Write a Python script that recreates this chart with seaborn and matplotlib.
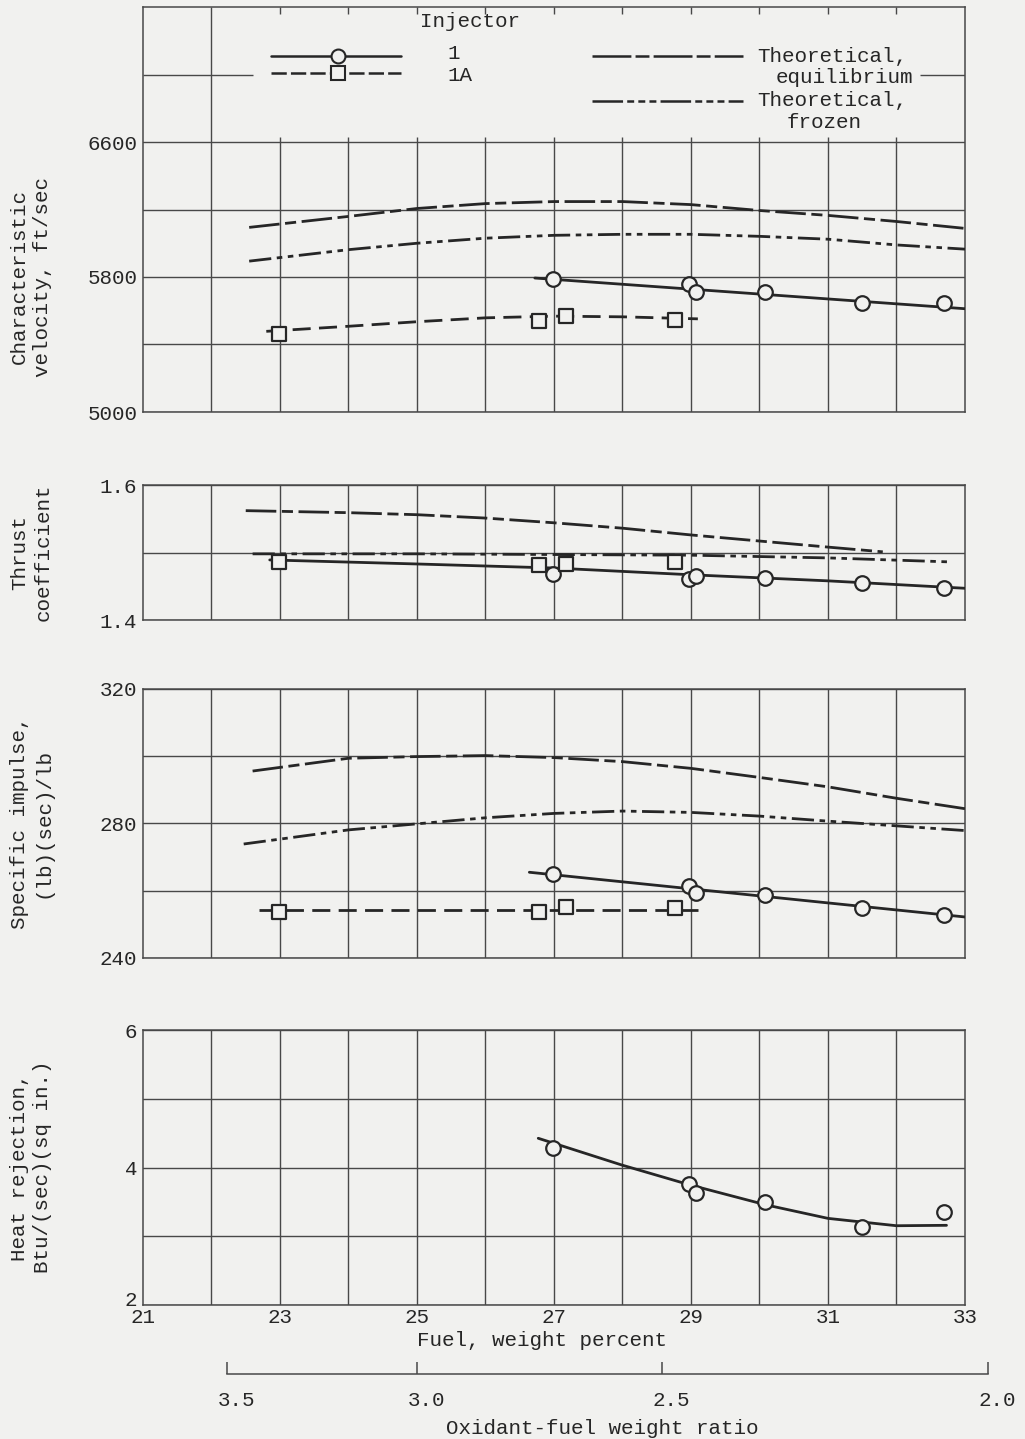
import matplotlib
matplotlib.use("Agg")
import matplotlib.pyplot as plt
import matplotlib.transforms as mtransforms
import numpy as np
import pandas as pd
import seaborn as sns

# ---------------------------------------------------------------- data
# Injector test points (fuel weight percent shared by all four panels)
fuel_inj1 = [26.99, 28.97, 29.08, 30.08, 31.49, 32.70]
fuel_inj1a = [22.98, 26.78, 27.18, 28.76]

# Characteristic velocity, ft/sec
cstar_inj1 = [5788, 5759, 5712, 5712, 5647, 5647]
cstar_inj1a = [5465, 5541, 5571, 5547]
fuel_cstar_fit1 = [26.72, 33.0]
cstar_fit1 = [5794, 5612]
fuel_cstar_fit1a = [22.8, 24, 25, 26, 27, 28, 29.1]
cstar_fit1a = [5478, 5508, 5535, 5558, 5568, 5564, 5552]
fuel_cstar_theo = [22.55, 24, 25, 26, 27, 28, 29, 30, 31, 32, 33]
cstar_equil = [6094, 6159, 6206, 6235, 6247, 6247, 6229, 6194, 6165, 6129, 6088]
cstar_frozen = [5894, 5962, 6000, 6030, 6047, 6053, 6053, 6041, 6024, 5990, 5965]

# Thrust coefficient
cf_inj1 = [1.468, 1.461, 1.465, 1.462, 1.455, 1.447]
cf_inj1a = [1.486, 1.482, 1.483, 1.486]
fuel_cf_fit = [22.85, 25, 27, 29, 31, 33]
cf_fit = [1.489, 1.483, 1.477, 1.467, 1.458, 1.447]
fuel_cf_equil = [22.5, 24, 25, 26, 27, 28, 29, 30, 31, 31.8]
cf_equil = [1.562, 1.559, 1.556, 1.551, 1.544, 1.536, 1.526, 1.517, 1.508, 1.501]
fuel_cf_frozen = [22.6, 25, 27, 29, 31, 32.8]
cf_frozen = [1.498, 1.498, 1.497, 1.496, 1.492, 1.486]

# Specific impulse, (lb)(sec)/lb
isp_inj1 = [265.0, 261.3, 259.2, 258.6, 255.0, 252.7]
isp_inj1a = [253.8, 253.8, 255.1, 254.8]
fuel_isp_fit1 = [26.64, 33.0]
isp_fit1 = [265.5, 252.2]
fuel_isp_fit1a = [22.7, 29.1]
isp_fit1a = [254.2, 254.2]
fuel_isp_equil = [22.6, 24, 25, 26, 27, 28, 29, 30, 31, 32, 33]
isp_equil = [295.6, 299.4, 299.9, 300.2, 299.6, 298.4, 296.4, 293.7, 290.9, 287.5, 284.4]
fuel_isp_frozen = [22.47, 24, 25, 26, 27, 28, 29, 30, 31, 32, 33]
isp_frozen = [273.9, 278.1, 279.9, 281.7, 283.0, 283.7, 283.3, 282.2, 280.7, 279.3, 277.9]

# Heat rejection, Btu/(sec)(sq in.)
heat_inj1 = [4.288, 3.760, 3.634, 3.494, 3.139, 3.348]
fuel_heat_fit = [26.77, 27.99, 28.99, 30.10, 31.0, 32.0, 32.73]
heat_fit = [4.425, 4.036, 3.745, 3.455, 3.26, 3.153, 3.159]

# Axis ticks
fuel_ticks = [21, 23, 25, 27, 29, 31, 33]
of_ticks = [3.5, 3.0, 2.5, 2.0]

# ---------------------------------------------------------------- style
PAPER = "#f1f1ef"
INK = "#262626"
GRID = "#484848"
FS = 15

sns.set_theme(style="white")
plt.rcParams["font.family"] = ["Liberation Mono", "DejaVu Sans Mono"]
plt.rcParams["lines.scale_dashes"] = False
plt.rcParams["text.color"] = INK
plt.rcParams["axes.labelcolor"] = INK
plt.rcParams["xtick.color"] = INK
plt.rcParams["ytick.color"] = INK

W, H = 1025, 1439
fig = plt.figure(figsize=(W / 100, H / 100), dpi=100, facecolor=PAPER)


def px_rect(x0, y0, x1, y1):
    return [x0 / W, 1 - y1 / H, (x1 - x0) / W, (y1 - y0) / H]


EQ_DASH = (22, 4, 8, 4)
FR_DASH = (16, 4, 4, 4, 4, 4)
INJ1A_DASH = (13, 6)


def curve(ax, x, y, dashes=None, lw=2.0):
    sns.lineplot(x=x, y=y, ax=ax, color=INK, linewidth=lw, sort=False,
                 estimator=None, zorder=3)
    ln = ax.lines[-1]
    if dashes is not None:
        ln.set_dashes(dashes)
    ln.set_dash_capstyle("butt")


def points(ax, x, y, marker, s):
    sns.scatterplot(x=x, y=y, ax=ax, marker=marker, s=s, color=PAPER,
                    edgecolor=INK, linewidth=1.6, zorder=5, legend=False)


def frame(ax, ylim, ygrid, ylabels, xgrid=True):
    ax.set_facecolor(PAPER)
    ax.set_xlim(21, 33)
    ax.set_ylim(*ylim)
    ax.set_yticks(ygrid, labels=[ylabels.get(v, "") for v in ygrid])
    ax.set_xticks(range(21, 34), labels=[""] * 13)
    ax.tick_params(length=0, labelsize=FS, pad=4)
    for sp in ax.spines.values():
        sp.set_color(GRID)
        sp.set_linewidth(1.1)
    ax.grid(False)
    for v in ygrid:
        ax.axhline(v, color=GRID, lw=1.0, zorder=1)
    if xgrid:
        for f in range(22, 33):
            ax.axvline(f, color=GRID, lw=1.0, zorder=1)
    ax.set_xlabel("")
    ax.set_ylabel("")


# ---------------------------------------------------------------- panel 1
ax1 = fig.add_axes(px_rect(143, 7, 965, 412))
frame(ax1, (5000, 7400), [5000, 5400, 5800, 6200, 6600],
      {5000: "5000", 5800: "5800", 6600: "6600"}, xgrid=False)
ax1.vlines(22, 5000, 7400, color=GRID, lw=1.0, zorder=1)
ax1.vlines(range(23, 33), 5000, 6600, color=GRID, lw=1.0, zorder=1)
ax1.vlines(range(23, 33), 7360, 7400, color=GRID, lw=1.0, zorder=1)
ax1.vlines(range(23, 33), 6600, 6630, color=GRID, lw=1.0, zorder=1)
ax1.hlines(7000, 21, 22.6, color=GRID, lw=1.0, zorder=1)
ax1.hlines(7000, 32.34, 33, color=GRID, lw=1.0, zorder=1)

curve(ax1, fuel_cstar_theo, cstar_equil, EQ_DASH)
curve(ax1, fuel_cstar_theo, cstar_frozen, FR_DASH)
curve(ax1, fuel_cstar_fit1, cstar_fit1)
curve(ax1, fuel_cstar_fit1a, cstar_fit1a, INJ1A_DASH)
points(ax1, fuel_inj1, cstar_inj1, "o", 110)
points(ax1, fuel_inj1a, cstar_inj1a, "s", 95)

# key
ax1.text(25.77, 7312, "Injector", ha="center", va="center", fontsize=FS)
ax1.plot([22.87, 24.77], [7112, 7112], color=INK, lw=1.8)
ax1.plot([23.85], [7112], marker="o", ms=10, mfc=PAPER, mec=INK, mew=1.5)
ln = ax1.plot([22.87, 24.77], [7008, 7008], color=INK, lw=1.8)[0]
ln.set_dashes((11, 3))
ax1.plot([23.85], [7008], marker="s", ms=9.5, mfc=PAPER, mec=INK, mew=1.5)
ax1.text(25.44, 7122, "1", ha="left", va="center", fontsize=FS)
ax1.text(25.44, 6995, "1A", ha="left", va="center", fontsize=FS)

ln = ax1.plot([27.55, 29.76], [7107, 7107], color=INK, lw=1.8)[0]
ln.set_dashes((28, 3, 10, 3))
ax1.text(29.96, 7107, "Theoretical,", ha="left", va="center", fontsize=FS)
ax1.text(32.24, 6985, "equilibrium", ha="right", va="center", fontsize=FS)
ln = ax1.plot([27.55, 29.76], [6845, 6845], color=INK, lw=1.8)[0]
ln.set_dashes((22, 3, 5, 3, 5, 3, 5, 3))
ax1.text(29.96, 6845, "Theoretical,", ha="left", va="center", fontsize=FS)
ax1.text(30.94, 6718, "frozen", ha="center", va="center", fontsize=FS)

# ---------------------------------------------------------------- panel 2
ax2 = fig.add_axes(px_rect(143, 485, 965, 620))
frame(ax2, (1.4, 1.6), [1.4, 1.5, 1.6], {1.4: "1.4", 1.6: "1.6"})
curve(ax2, fuel_cf_equil, cf_equil, EQ_DASH)
curve(ax2, fuel_cf_frozen, cf_frozen, FR_DASH)
curve(ax2, fuel_cf_fit, cf_fit)
points(ax2, fuel_inj1, cf_inj1, "o", 110)
points(ax2, fuel_inj1a, cf_inj1a, "s", 95)

# ---------------------------------------------------------------- panel 3
ax3 = fig.add_axes(px_rect(143, 689, 965, 958))
frame(ax3, (240, 320), [240, 260, 280, 300, 320],
      {240: "240", 280: "280", 320: "320"})
curve(ax3, fuel_isp_equil, isp_equil, EQ_DASH)
curve(ax3, fuel_isp_frozen, isp_frozen, FR_DASH)
curve(ax3, fuel_isp_fit1, isp_fit1)
curve(ax3, fuel_isp_fit1a, isp_fit1a, INJ1A_DASH)
points(ax3, fuel_inj1, isp_inj1, "o", 110)
points(ax3, fuel_inj1a, isp_inj1a, "s", 95)

# ---------------------------------------------------------------- panel 4
ax4 = fig.add_axes(px_rect(143, 1030, 965, 1305))
frame(ax4, (2, 6), [2, 3, 4, 5, 6], {2: "2", 4: "4", 6: "6"})
ax4.set_xticks(range(21, 34),
               labels=[str(v) if v in fuel_ticks else "" for v in range(21, 34)])
ax4.tick_params(axis="x", pad=2)
# lift the lowest y label a little so it clears the x labels
ylab_lift = mtransforms.ScaledTranslation(0, 5 / 72, fig.dpi_scale_trans)
ax4.get_yticklabels()[0].set_transform(
    ax4.get_yticklabels()[0].get_transform() + ylab_lift)
curve(ax4, fuel_heat_fit, heat_fit)
points(ax4, fuel_inj1, heat_inj1, "o", 110)

# ---------------------------------------------------------------- ratio scale
def of_to_fuel(of):
    return 100.0 / (1.0 + of)


ax5 = fig.add_axes(px_rect(143, 1350, 1010, 1374))
ax5.set_facecolor("none")
ax5.set_xlim(21, 21 + 867 / 68.5)
ax5.set_ylim(0, 1)
for name, sp in ax5.spines.items():
    sp.set_visible(name == "bottom")
ax5.spines["bottom"].set_color(GRID)
ax5.spines["bottom"].set_linewidth(1.1)
ax5.spines["bottom"].set_bounds(of_to_fuel(3.5), of_to_fuel(2.0))
ax5.set_xticks([of_to_fuel(v) for v in of_ticks],
               labels=[f"{v:.1f}" for v in of_ticks])
ax5.set_yticks([])
ax5.tick_params(axis="x", bottom=True, direction="in", length=9, width=1.1,
                color=GRID, labelsize=FS, pad=12)
shift = mtransforms.ScaledTranslation(7 / 72, 0, fig.dpi_scale_trans)
for lbl in ax5.get_xticklabels():
    lbl.set_transform(lbl.get_transform() + shift)

# ---------------------------------------------------------------- labels
def ylab(text, yc):
    fig.text(31 / W, 1 - yc / H, text, rotation=90, ha="center", va="center",
             multialignment="center", fontsize=FS, linespacing=1.3)


ylab("Characteristic\nvelocity, ft/sec", 277)
ylab("Thrust\ncoefficient", 552)
ylab("Specific impulse,\n(lb)(sec)/lb", 823)
ylab("Heat rejection,\nBtu/(sec)(sq in.)", 1167)

fig.text(542 / W, 1 - 1341 / H, "Fuel, weight percent", ha="center",
         va="center", fontsize=FS)
fig.text(602 / W, 1 - 1428 / H, "Oxidant-fuel weight ratio", ha="center",
         va="center", fontsize=FS)

fig.savefig("out.png", dpi=100, facecolor=PAPER)
